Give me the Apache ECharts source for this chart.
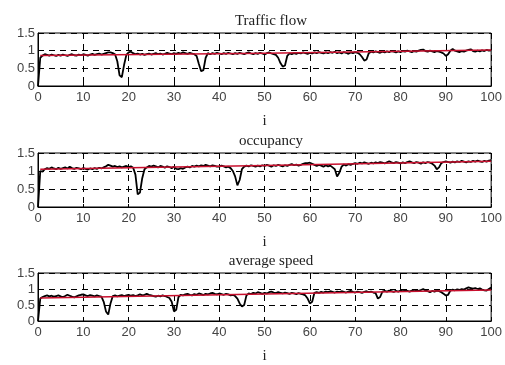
<!DOCTYPE html>
<html><head><meta charset="utf-8">
<script src="https://cdn.jsdelivr.net/npm/echarts@6/dist/echarts.min.js"></script>
<style>html,body{margin:0;padding:0;background:#fff}#c{width:505px;height:365px}</style>
</head><body><div id="c"></div>
<script>
// x step for the measured series
var xStep = 0.5;
var titles = ["Traffic flow", "occupancy", "average speed"];
var xTicks = [0,10,20,30,40,50,60,70,80,90,100];
var yTicks = [0,0.5,1,1.5];

var flow = [
0,0.8,0.86,0.9,0.88,0.86,0.89,0.87,0.85,0.88,0.86,0.89,0.87,0.85,0.88,0.9,0.87,0.86,0.89,0.87,
0.9,0.88,0.86,0.89,0.91,0.88,0.9,0.92,0.89,0.91,0.93,0.95,0.95,0.93,0.9,0.7,0.3,0.25,0.6,0.88,
0.95,0.97,0.93,0.9,0.92,0.89,0.91,0.88,0.9,0.92,0.89,0.91,0.93,0.9,0.92,0.89,0.91,0.94,0.92,0.9,
0.93,0.91,0.94,0.92,0.95,0.93,0.91,0.94,0.92,0.9,0.85,0.62,0.42,0.45,0.8,0.93,0.9,0.93,0.91,0.94,
0.92,0.9,0.93,0.91,0.94,0.92,0.9,0.93,0.91,0.94,0.92,0.9,0.93,0.95,0.92,0.9,0.93,0.91,0.94,0.92,
0.89,0.93,0.95,0.92,0.9,0.88,0.8,0.65,0.55,0.58,0.85,0.92,0.9,0.93,0.91,0.94,0.92,0.95,0.93,0.91,
0.94,0.92,0.95,0.93,0.96,0.94,0.92,0.95,0.93,0.96,0.94,0.97,0.93,0.95,0.92,0.96,0.94,0.91,0.95,0.93,
0.96,0.94,0.9,0.82,0.72,0.75,0.93,0.97,0.95,0.98,0.96,0.94,0.97,0.95,0.98,0.96,0.99,0.97,0.95,0.98,
0.96,0.99,0.97,1.0,0.98,0.96,0.99,0.97,1.0,1.02,1.03,0.99,0.97,1.0,0.98,0.96,0.99,0.97,0.95,0.92,
0.85,0.9,1.0,1.05,1.0,0.98,0.96,0.99,0.97,1.0,1.02,1.04,0.99,0.97,1.0,0.98,1.01,0.99,1.02,1.0,
1.01];
var flowTrendX = [0.5, 50, 100];
var flowTrendY = [0.86, 0.93, 1.02];

var occupancy = [
0,1.0,0.98,1.05,1.08,1.06,1.1,1.07,1.05,1.09,1.06,1.08,1.1,1.07,1.12,1.08,1.06,1.09,1.07,1.05,
1.08,1.06,1.04,1.07,1.05,1.08,1.06,1.09,1.07,1.1,1.13,1.17,1.15,1.12,1.14,1.11,1.13,1.1,1.12,1.14,
1.11,1.13,1.09,0.9,0.35,0.4,0.8,1.05,1.1,1.14,1.12,1.15,1.13,1.1,1.14,1.12,1.09,1.13,1.11,1.08,
1.12,1.06,1.05,1.08,1.06,1.1,1.12,1.1,1.14,1.12,1.15,1.13,1.16,1.14,1.17,1.15,1.13,1.16,1.14,1.12,
1.12,1.15,1.13,1.1,1.12,1.08,1.0,0.85,0.6,0.75,1.05,1.12,1.15,1.13,1.16,1.14,1.12,1.15,1.13,1.16,
1.14,1.17,1.15,1.12,1.16,1.14,1.17,1.15,1.13,1.16,1.14,1.17,1.19,1.16,1.18,1.15,1.17,1.2,1.22,1.22,
1.23,1.2,1.17,1.14,1.17,1.15,1.12,1.16,1.13,1.15,1.1,1.05,0.85,0.95,1.12,1.18,1.15,1.19,1.17,1.2,
1.22,1.2,1.23,1.21,1.24,1.22,1.2,1.23,1.21,1.24,1.22,1.25,1.23,1.21,1.24,1.27,1.24,1.22,1.25,1.23,
1.21,1.24,1.22,1.25,1.27,1.24,1.22,1.25,1.23,1.2,1.24,1.22,1.25,1.23,1.2,1.15,1.05,1.1,1.22,1.25,
1.27,1.25,1.23,1.26,1.24,1.27,1.25,1.28,1.26,1.24,1.27,1.25,1.28,1.26,1.29,1.27,1.25,1.28,1.26,1.29,
1.3];
var occTrendX = [0.5, 50, 100];
var occTrendY = [1.05, 1.15, 1.27];

var speed = [
0,0.7,0.75,0.78,0.8,0.77,0.79,0.76,0.78,0.8,0.77,0.75,0.78,0.82,0.79,0.76,0.74,0.77,0.8,0.82,
0.83,0.8,0.78,0.81,0.79,0.77,0.8,0.78,0.76,0.6,0.3,0.2,0.55,0.78,0.8,0.77,0.79,0.81,0.78,0.8,
0.82,0.79,0.81,0.78,0.8,0.83,0.8,0.82,0.85,0.82,0.8,0.78,0.76,0.79,0.77,0.8,0.78,0.75,0.72,0.6,
0.3,0.35,0.75,0.82,0.8,0.83,0.85,0.82,0.8,0.84,0.82,0.86,0.84,0.81,0.85,0.83,0.86,0.88,0.85,0.83,
0.86,0.84,0.82,0.85,0.83,0.8,0.82,0.78,0.7,0.55,0.45,0.5,0.8,0.86,0.84,0.88,0.86,0.9,0.88,0.85,
0.88,0.86,0.9,0.92,0.89,0.87,0.9,0.88,0.86,0.89,0.87,0.85,0.88,0.86,0.84,0.87,0.85,0.83,0.8,0.7,
0.55,0.6,0.88,0.9,0.88,0.91,0.89,0.92,0.9,0.93,0.91,0.89,0.92,0.9,0.93,0.91,0.89,0.92,0.94,0.91,
0.89,0.92,0.9,0.88,0.91,0.93,0.9,0.92,0.89,0.87,0.7,0.75,0.92,0.94,0.92,0.95,0.93,0.91,0.94,0.92,
0.95,0.93,0.96,0.94,0.92,0.95,0.93,0.96,0.94,0.97,1.0,0.95,0.93,0.9,0.94,0.92,0.95,0.93,0.9,0.85,
0.8,0.82,0.95,0.98,0.96,0.99,0.97,1.0,0.98,1.02,1.05,1.03,1.01,1.03,1.0,1.02,0.98,0.96,0.95,1.0,
1.05];
var speedTrendX = [0.5, 50, 100];
var speedTrendY = [0.72, 0.84, 0.97];

var series = [flow, occupancy, speed];
var trendsX = [flowTrendX, occTrendX, speedTrendX];
var trendsY = [flowTrendY, occTrendY, speedTrendY];

var gridTops = [33, 153, 273];
var gridH = [53, 54, 54];

var opt = {
  animation: false,
  backgroundColor: '#fff',
  title: [], grid: [], xAxis: [], yAxis: [], series: []
};
var serif = '"Liberation Serif","DejaVu Serif",serif';
var sans = '"Liberation Sans","DejaVu Sans",sans-serif';
for (var k = 0; k < 3; k++) {
  opt.title.push({
    text: titles[k], left: 266, top: gridTops[k] - 24, textAlign: 'center',
    textStyle: {fontFamily: serif, fontSize: 15, fontWeight: 'normal', color: '#222'}
  });
  opt.grid.push({left: 38, right: 10, top: gridTops[k], height: gridH[k],
    show: true, borderColor: '#000', borderWidth: 1, backgroundColor: '#fff'});
  opt.xAxis.push({
    type: 'value', gridIndex: k, min: 0, max: 100, interval: 10,
    name: 'i', nameLocation: 'middle', nameGap: 28,
    nameTextStyle: {fontFamily: serif, fontSize: 15, color: '#222'},
    axisLine: {show: true, lineStyle: {color: '#000', width: 1}},
    axisTick: {show: true, inside: true, length: 3, lineStyle: {color: '#000'}},
    axisLabel: {fontFamily: sans, fontSize: 13, color: '#444', margin: 5,
      formatter: function(v){ return xTicks.indexOf(v) >= 0 ? String(v) : ''; }},
    splitLine: {show: true, lineStyle: {color: '#000', type: [6, 5], width: 1}}
  });
  opt.yAxis.push({
    type: 'value', gridIndex: k, min: 0, max: 1.5, interval: 0.5,
    axisLine: {show: true, lineStyle: {color: '#000', width: 1}},
    axisTick: {show: true, inside: true, length: 3, lineStyle: {color: '#000'}},
    axisLabel: {fontFamily: sans, fontSize: 13, color: '#444', margin: 3,
      formatter: function(v){ return yTicks.indexOf(v) >= 0 ? String(v) : ''; }},
    splitLine: {show: true, lineStyle: {color: '#000', type: [6, 5], width: 1}}
  });
  var pts = series[k].map(function(v, i){ return [i * xStep, v]; });
  opt.series.push({
    type: 'line', xAxisIndex: k, yAxisIndex: k, data: pts, showSymbol: false,
    lineStyle: {color: '#000', width: 1.8}, z: 3
  });
  var tr = trendsX[k].map(function(x, i){ return [x, trendsY[k][i]]; });
  opt.series.push({
    type: 'line', xAxisIndex: k, yAxisIndex: k, data: tr, showSymbol: false,
    smooth: true, lineStyle: {color: '#c8102e', width: 1.5}, z: 4
  });
}
var ch = echarts.init(document.getElementById('c'), null, {renderer: 'canvas'});
ch.setOption(opt);
</script>
</body></html>
